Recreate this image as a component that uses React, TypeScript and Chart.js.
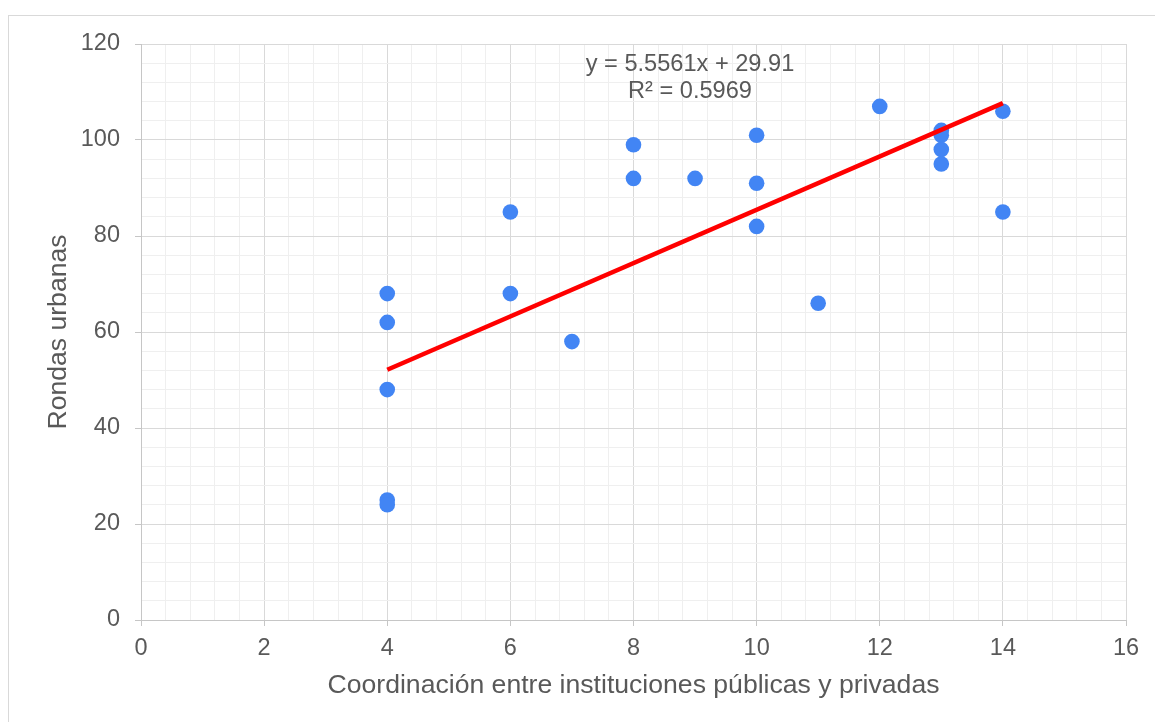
import React, { useEffect, useRef } from "react";
import { Chart, registerables } from "chart.js";

Chart.register(...registerables);

// ---- Data ----
const xValues: number[] = [4, 4, 4, 4, 4, 6, 6, 7, 8, 8, 9, 10, 10, 10, 11, 12, 13, 13, 13, 13, 14, 14];
const yValues: number[] = [68, 62, 48, 25, 24, 85, 68, 58, 99, 92, 92, 101, 91, 82, 66, 107, 102, 101, 98, 95, 106, 85];

// Trendline from the equation shown on the chart
const trendSlope = 5.5561;
const trendIntercept = 29.91;
const equationLines: string[] = ["y = 5.5561x + 29.91", "R² = 0.5969"];

const xAxisTitle = "Coordinación entre instituciones públicas y privadas";
const yAxisTitle = "Rondas urbanas";

const xMin = 0, xMax = 16, xMajor = 2, xMinor = 0.4;
const yMin = 0, yMax = 120, yMajor = 20, yMinor = 4;

const FONT = "'Liberation Sans', Arial, sans-serif";
const TEXT = "#595959";
const MAJOR = "#d9d9d9";
const MINOR = "#efefef";
const AXIS = "#c6c6c6";

const isMajor = (v: number, step: number) => Math.abs(v / step - Math.round(v / step)) < 1e-6;

export default function App() {
  const ref = useRef<HTMLCanvasElement | null>(null);

  useEffect(() => {
    if (!ref.current) return;
    const points = xValues.map((x, i) => ({ x, y: yValues[i] }));
    const tx0 = Math.min(...xValues);
    const tx1 = Math.max(...xValues);
    const trend = [
      { x: tx0, y: trendSlope * tx0 + trendIntercept },
      { x: tx1, y: trendSlope * tx1 + trendIntercept },
    ];

    const equationPlugin = {
      id: "equation",
      afterDatasetsDraw(chart: any) {
        const { ctx, chartArea } = chart;
        ctx.save();
        ctx.font = `23.6px ${FONT}`;
        ctx.fillStyle = TEXT;
        ctx.textAlign = "center";
        ctx.textBaseline = "middle";
        const cx = chartArea.left + 549;
        const cy = chartArea.top + 20;
        equationLines.forEach((line, i) => ctx.fillText(line, cx, cy + i * 27));
        ctx.restore();
      },
    };

    const chart = new Chart(ref.current, {
      type: "scatter",
      data: {
        datasets: [
          {
            type: "line",
            label: "Tendencia",
            data: trend,
            borderColor: "#ff0000",
            borderWidth: 4.5,
            pointRadius: 0,
            showLine: true,
            fill: false,
            order: 0,
          } as any,
          {
            label: yAxisTitle,
            data: points,
            backgroundColor: "#4285f4",
            borderColor: "#4285f4",
            borderWidth: 0,
            pointRadius: 7.8,
            order: 1,
          },
        ],
      },
      options: {
        responsive: false,
        animation: false,
        layout: { padding: { top: 44, right: 29, left: 0, bottom: 0 } },
        plugins: {
          legend: { display: false },
          tooltip: { enabled: false },
        },
        scales: {
          x: {
            type: "linear",
            min: xMin,
            max: xMax,
            afterFit: (s: any) => { s.height = 102; },
            border: { color: AXIS, width: 1 },
            grid: {
              color: (c: any) => (isMajor(c.tick.value, xMajor) ? MAJOR : MINOR),
              tickColor: (c: any) => (isMajor(c.tick.value, xMajor) ? AXIS : "rgba(0,0,0,0)"),
              tickLength: 6,
              lineWidth: 1,
            },
            ticks: {
              stepSize: xMinor,
              autoSkip: false,
              maxRotation: 0,
              minRotation: 0,
              padding: 8,
              color: TEXT,
              font: { family: FONT, size: 23.5 },
              callback: (v: any) => (isMajor(Number(v), xMajor) ? String(Math.round(Number(v))) : ""),
            },
            title: {
              display: true,
              text: xAxisTitle,
              color: TEXT,
              font: { family: FONT, size: 26.6 },
              padding: { top: 0, bottom: 20 },
            },
          },
          y: {
            type: "linear",
            min: yMin,
            max: yMax,
            afterFit: (s: any) => { s.width = 141; },
            border: { color: AXIS, width: 1 },
            grid: {
              color: (c: any) => (isMajor(c.tick.value, yMajor) ? MAJOR : MINOR),
              tickColor: (c: any) => (isMajor(c.tick.value, yMajor) ? AXIS : "rgba(0,0,0,0)"),
              tickLength: 6,
              lineWidth: 1,
            },
            ticks: {
              stepSize: yMinor,
              autoSkip: false,
              padding: 15,
              color: TEXT,
              font: { family: FONT, size: 23.5 },
              callback: (v: any) => (isMajor(Number(v), yMajor) ? String(Math.round(Number(v))) : ""),
            },
            title: {
              display: true,
              text: yAxisTitle,
              color: TEXT,
              font: { family: FONT, size: 26.6 },
              padding: { top: 43, bottom: 0 },
            },
          },
        },
      },
      plugins: [equationPlugin],
    });
    return () => chart.destroy();
  }, []);

  return (
    <div
      style={{
        position: "fixed",
        left: 0,
        top: 0,
        width: 1155,
        height: 722,
        overflow: "hidden",
        background: "#ffffff",
      }}
    >
      <div
        style={{
          position: "absolute",
          left: 8,
          top: 15,
          width: 1200,
          height: 800,
          borderLeft: "1px solid #d9d9d9",
          borderTop: "1px solid #d9d9d9",
        }}
      />
      <canvas
        ref={ref}
        width={1155}
        height={722}
        style={{ position: "absolute", left: 0, top: 0, width: 1155, height: 722 }}
      />
    </div>
  );
}
